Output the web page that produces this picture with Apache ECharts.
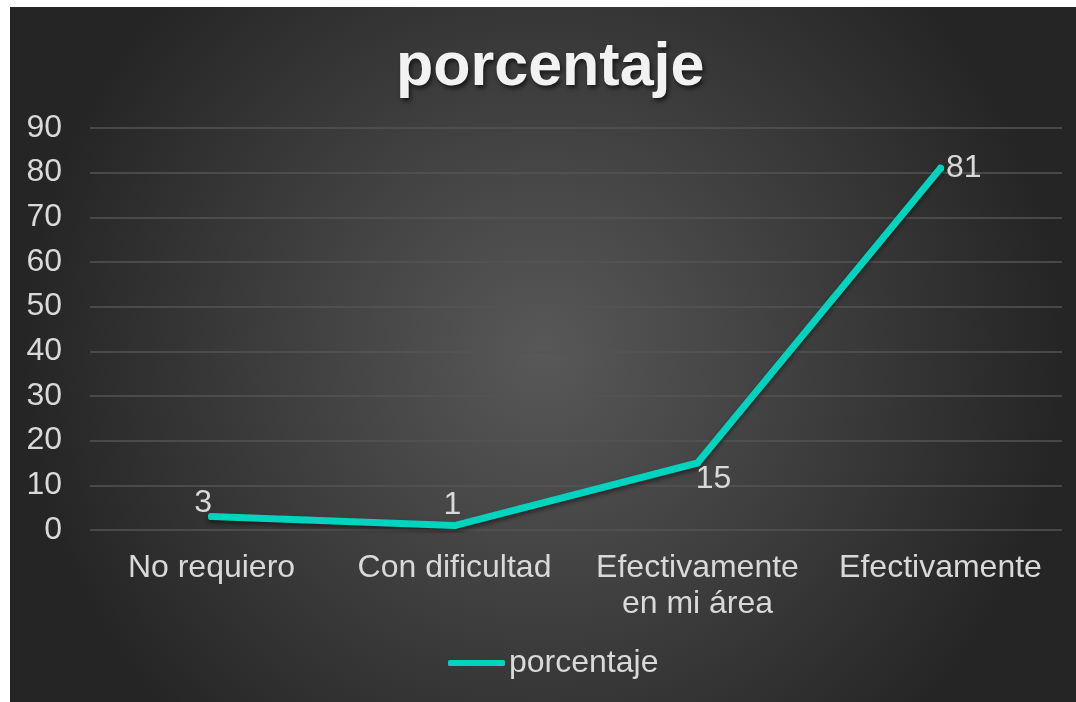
<!DOCTYPE html>
<html>
<head>
<meta charset="utf-8">
<script src="https://cdn.jsdelivr.net/npm/echarts@6/dist/echarts.min.js"></script>
<style>
    html, body { margin: 0; padding: 0; background: #ffffff; }
    #chart { position: absolute; left: 10px; top: 7px; width: 1066px; height: 695px; }
</style>
</head>
<body>
<div id="chart"></div>
<script>
// datos del gráfico
const categories = ['No requiero', 'Con dificultad', 'Efectivamente\nen mi área', 'Efectivamente']
const porcentaje = [3, 1, 15, 81]
const yTicks = [0, 10, 20, 30, 40, 50, 60, 70, 80, 90]

// posición de cada etiqueta (como en el original)
const labelPlacement = [
    { position: 'left', offset: [9, -13] },
    { position: 'top', offset: [-2, 4] },
    { position: 'bottom', offset: [16, -8] },
    { position: 'right', offset: [-3, 0] }
]

const TEAL = '#00d4be'
const TEXT = '#d9d9d9'
const FONT = '"Liberation Sans", Arial, sans-serif'

const chart = echarts.init(document.getElementById('chart'))
const option = {
    backgroundColor: new echarts.graphic.RadialGradient(0.5, 0.5, 0.75, [
        { offset: 0, color: '#585858' },
        { offset: 1, color: '#252525' }
    ]),
    title: {
        text: 'porcentaje',
        left: 381,
        top: 26,
        textStyle: {
            color: '#f2f2f2',
            fontFamily: FONT,
            fontWeight: 'bold',
            fontSize: 61,
            textShadowColor: 'rgba(0,0,0,0.6)',
            textShadowBlur: 4,
            textShadowOffsetX: 2,
            textShadowOffsetY: 3
        }
    },
    grid: {
        left: 80,
        right: 14,
        top: 121,
        bottom: 172
    },
    legend: {
        bottom: 18,
        left: 433,
        icon: 'roundRect',
        itemWidth: 57,
        itemHeight: 6,
        itemGap: 4,
        textStyle: { color: TEXT, fontFamily: FONT, fontSize: 32, padding: [0, 0, 0, -1] }
    },
    xAxis: {
        type: 'category',
        data: categories,
        axisLine: { show: false },
        axisTick: { show: false },
        axisLabel: {
            color: TEXT,
            fontFamily: FONT,
            fontSize: 32,
            lineHeight: 36,
            margin: 20,
            interval: 0
        }
    },
    yAxis: {
        type: 'value',
        min: yTicks[0],
        max: yTicks[yTicks.length - 1],
        interval: yTicks[1] - yTicks[0],
        axisLine: { show: false },
        axisTick: { show: false },
        axisLabel: {
            color: TEXT,
            fontFamily: FONT,
            fontSize: 32,
            margin: 28
        },
        splitLine: { lineStyle: { color: '#555555', width: 1.5 } }
    },
    series: [
        {
            name: 'porcentaje',
            type: 'line',
            data: porcentaje.map((v, i) => ({ value: v, label: labelPlacement[i] })),
            symbol: 'circle',
            symbolSize: 7,
            itemStyle: { color: TEAL },
            lineStyle: {
                color: TEAL,
                width: 7,
                cap: 'round',
                join: 'round',
                shadowColor: 'rgba(0,0,0,0.45)',
                shadowBlur: 4,
                shadowOffsetY: 3
            },
            label: {
                show: true,
                color: TEXT,
                fontFamily: FONT,
                fontSize: 32
            },
            emphasis: { disabled: true },
            animation: false
        }
    ]
}

chart.setOption(option)

window.addEventListener('resize', () => {
    chart.resize()
})
</script>
</body>
</html>
